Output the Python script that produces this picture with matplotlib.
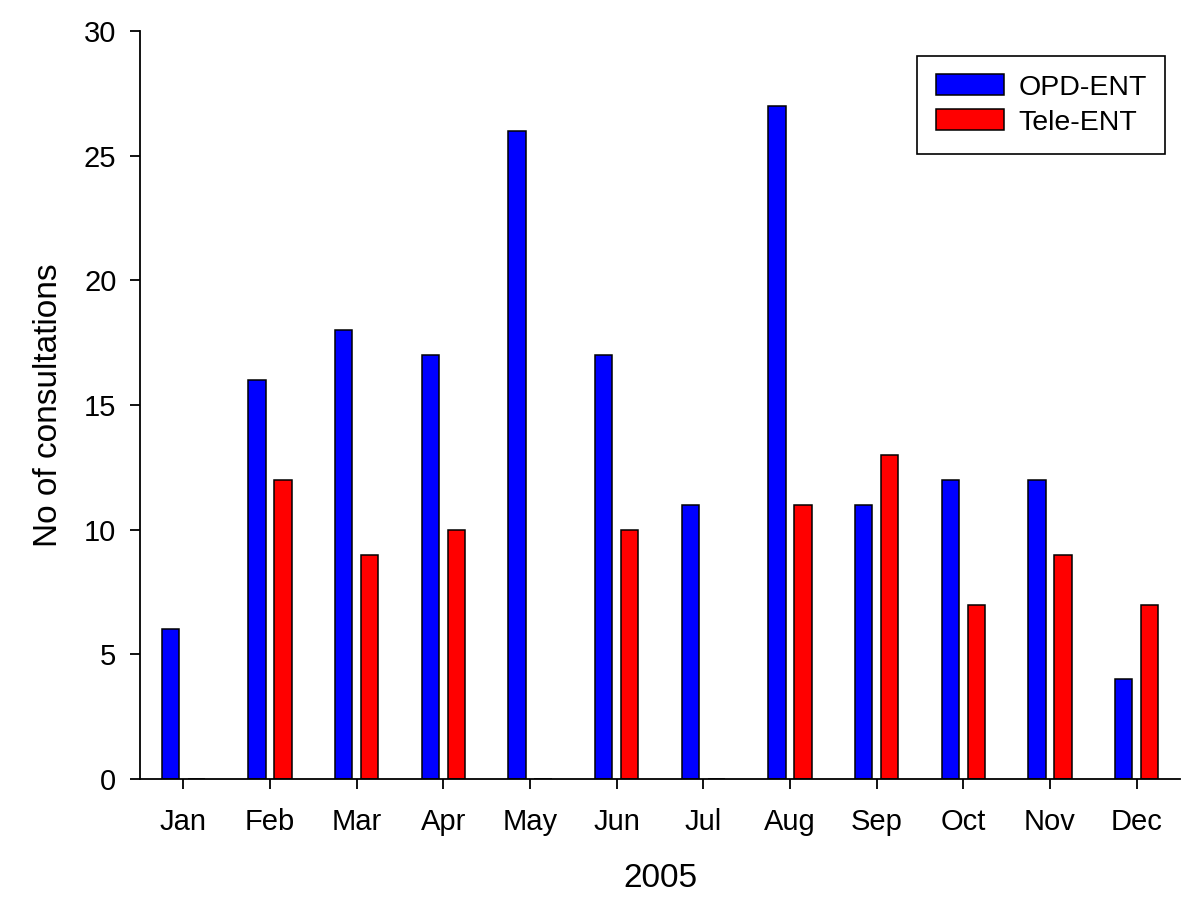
import numpy as np
import matplotlib
matplotlib.use('Agg')
import matplotlib.pyplot as plt

plt.rcParams['font.family'] = ['Liberation Sans', 'DejaVu Sans']

months = ['Jan', 'Feb', 'Mar', 'Apr', 'May', 'Jun', 'Jul', 'Aug', 'Sep', 'Oct', 'Nov', 'Dec']
opd_ent = [6, 16, 18, 17, 26, 17, 11, 27, 11, 12, 12, 4]
tele_ent = [0, 12, 9, 10, 0, 10, 0, 11, 13, 7, 9, 7]

fig = plt.figure(figsize=(12, 9.07), dpi=100)
ax = fig.add_axes([0.1167, 0.141, 0.8666, 0.825])

x = np.arange(len(months))
w = 0.2
ax.bar(x - 0.15, opd_ent, w, color='#0000ff', edgecolor='black', linewidth=1.1, label='OPD-ENT')
ax.bar(x + 0.15, tele_ent, w, color='#ff0000', edgecolor='black', linewidth=1.1, label='Tele-ENT')

ax.set_xlim(-0.5, 11.5)
ax.set_ylim(0, 30)
ax.set_xticks(x)
ax.set_xticklabels(months)
ax.set_yticks(range(0, 31, 5))
for s in ['top', 'right']:
    ax.spines[s].set_visible(False)
for s in ['left', 'bottom']:
    ax.spines[s].set_linewidth(1.3)
ax.tick_params(direction='out', length=7, width=1.3, labelsize=21)
ax.tick_params(axis='x', pad=14)
ax.tick_params(axis='y', pad=10)

ax.set_xlabel('2005', fontsize=24, labelpad=19)
ax.set_ylabel('No of consultations', fontsize=24, labelpad=14)

leg = ax.legend(loc='upper right', bbox_to_anchor=(0.986, 0.967), borderaxespad=0,
                fontsize=20.5, fancybox=False, framealpha=1, edgecolor='black',
                handlelength=2.4, handleheight=0.77, handletextpad=0.5,
                labelspacing=0.3, borderpad=0.65)
leg.get_frame().set_linewidth(1.2)

fig.savefig('out.png', dpi=100)
